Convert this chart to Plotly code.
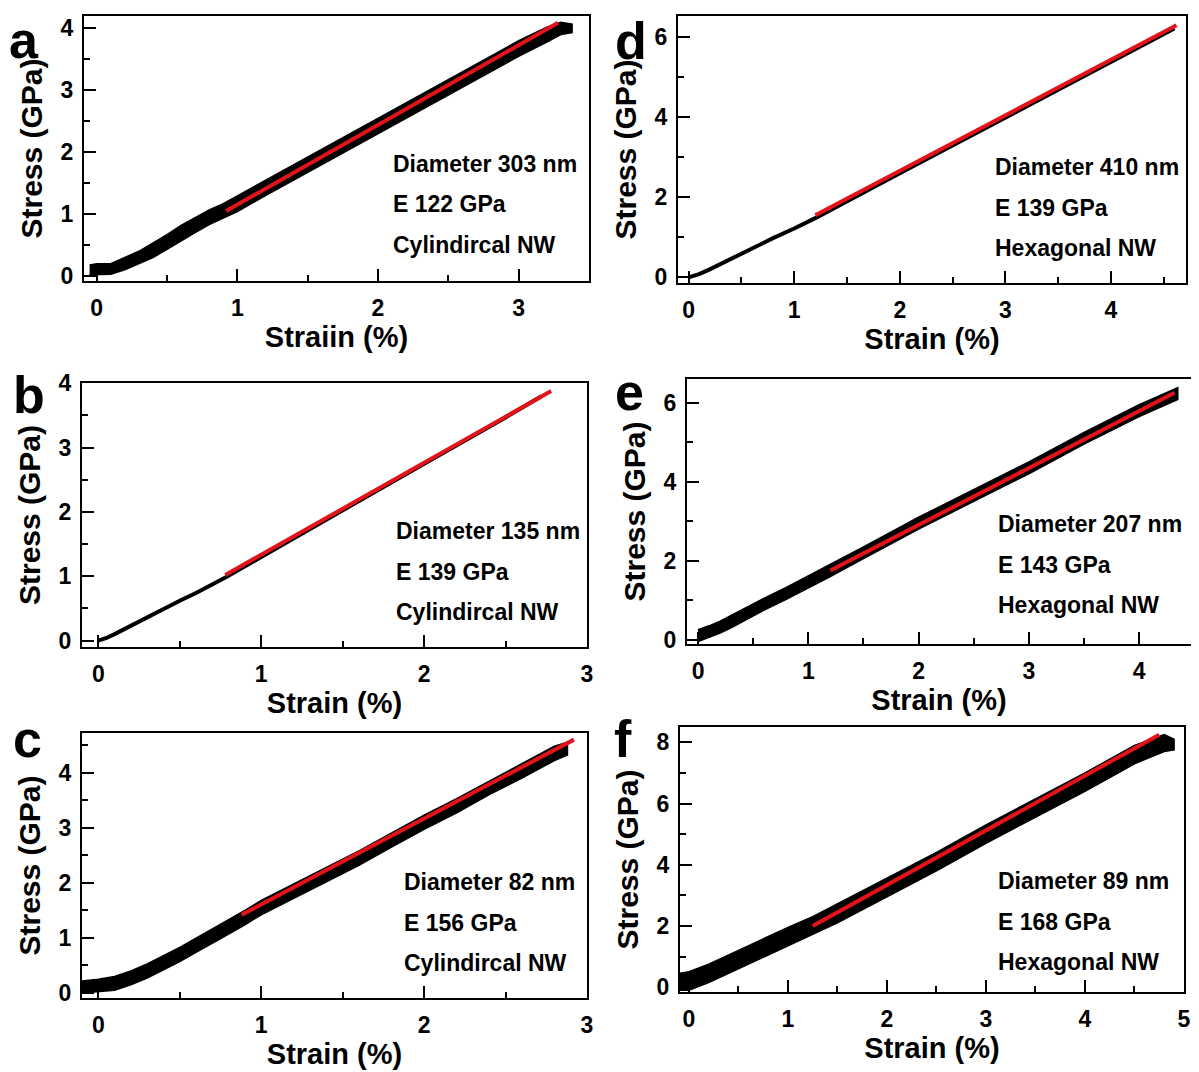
import plotly.graph_objects as go

# the page body has an 8px margin, so the figure is drawn 8px in from the top-left
OFF = 8
W, H = 1199 - OFF, 1072 - OFF

# ---- panel a : Diameter 303 nm, cylindrical ----
a_strain = [-0.05, 0.0, 0.1, 0.2, 0.3, 0.4, 0.5, 0.6, 0.7, 0.8, 0.9, 1.0, 1.2, 1.4, 1.6, 1.8,
            2.0, 2.2, 2.4, 2.6, 2.8, 3.0, 3.2, 3.3, 3.38]
a_lo = [0.02, 0.02, 0.03, 0.1, 0.2, 0.3, 0.43, 0.57, 0.7, 0.83, 0.93, 1.04, 1.3, 1.55, 1.8, 2.06,
        2.3, 2.55, 2.8, 3.05, 3.3, 3.55, 3.78, 3.9, 3.93]
a_hi = [0.18, 0.2, 0.2, 0.3, 0.4, 0.53, 0.67, 0.82, 0.95, 1.07, 1.17, 1.3, 1.55, 1.8, 2.05, 2.3,
        2.55, 2.8, 3.05, 3.3, 3.55, 3.8, 4.02, 4.1, 4.07]
a_fit_x = [0.92, 3.28]
a_fit_y = [1.05, 4.09]

# ---- panel b : Diameter 135 nm, cylindrical ----
b_strain = [0.0, 0.05, 0.1, 0.2, 0.3, 0.4, 0.5, 0.6, 0.7, 0.78, 1.0, 1.5, 2.0, 2.5, 2.72]
b_stress = [0.0, 0.04, 0.1, 0.23, 0.37, 0.5, 0.62, 0.74, 0.87, 0.98, 1.3, 2.03, 2.75, 3.47, 3.8]
b_fit_x = [0.78, 2.78]
b_fit_y = [1.02, 3.88]

# ---- panel c : Diameter 82 nm, cylindrical ----
c_strain = [-0.1, 0.0, 0.1, 0.2, 0.3, 0.4, 0.5, 0.6, 0.7, 0.8, 0.9, 1.0, 1.2, 1.4, 1.6, 1.8,
            2.0, 2.2, 2.4, 2.6, 2.8, 2.88]
c_lo = [0.0, 0.02, 0.05, 0.15, 0.27, 0.42, 0.57, 0.74, 0.9, 1.07, 1.24, 1.42, 1.72, 2.02, 2.32,
        2.65, 2.97, 3.27, 3.6, 3.9, 4.22, 4.32]
c_hi = [0.22, 0.25, 0.3, 0.4, 0.53, 0.68, 0.83, 1.0, 1.16, 1.33, 1.5, 1.68, 1.98, 2.28, 2.58,
        2.9, 3.23, 3.53, 3.85, 4.16, 4.48, 4.55]
c_fit_x = [0.88, 2.92]
c_fit_y = [1.42, 4.6]

# ---- panel d : Diameter 410 nm, hexagonal ----
d_strain = [0.0, 0.05, 0.1, 0.2, 0.3, 0.4, 0.5, 0.6, 0.8, 1.0, 1.2, 2.0, 3.0, 4.0, 4.6]
d_stress = [0.0, 0.03, 0.08, 0.2, 0.33, 0.46, 0.6, 0.73, 0.98, 1.22, 1.48, 2.6, 4.0, 5.4, 6.22]
d_fit_x = [1.2, 4.62]
d_fit_y = [1.55, 6.3]

# ---- panel e : Diameter 207 nm, hexagonal ----
e_strain = [0.0, 0.1, 0.2, 0.3, 0.4, 0.5, 0.6, 0.8, 1.0, 1.2, 1.5, 2.0, 2.5, 3.0, 3.5, 4.0, 4.35]
e_lo = [-0.05, 0.05, 0.17, 0.3, 0.45, 0.6, 0.75, 1.02, 1.3, 1.6, 2.05, 2.8, 3.5, 4.2, 4.95, 5.65, 6.08]
e_hi = [0.25, 0.35, 0.47, 0.6, 0.75, 0.9, 1.05, 1.32, 1.6, 1.9, 2.35, 3.1, 3.8, 4.5, 5.25, 5.95, 6.38]
e_fit_x = [1.2, 4.32]
e_fit_y = [1.75, 6.25]

# ---- panel f : Diameter 89 nm, hexagonal ----
f_strain = [-0.1, 0.0, 0.2, 0.4, 0.6, 0.8, 1.0, 1.25, 1.5, 2.0, 2.5, 3.0, 3.5, 4.0, 4.5, 4.8, 4.9]
f_lo = [-0.1, -0.1, 0.15, 0.45, 0.75, 1.05, 1.35, 1.7, 2.1, 2.95, 3.8, 4.7, 5.55, 6.4, 7.3, 7.7, 7.75]
f_hi = [0.45, 0.5, 0.75, 1.05, 1.35, 1.65, 1.95, 2.3, 2.7, 3.55, 4.4, 5.3, 6.15, 7.0, 7.9, 8.25, 8.1]
f_fit_x = [1.25, 4.75]
f_fit_y = [2.0, 8.25]

labels = {
    "a": ["Diameter 303 nm", "E 122 GPa", "Cylindircal NW"],
    "b": ["Diameter 135 nm", "E 139 GPa", "Cylindircal NW"],
    "c": ["Diameter 82 nm", "E 156 GPa", "Cylindircal NW"],
    "d": ["Diameter 410 nm", "E 139 GPa", "Hexagonal NW"],
    "e": ["Diameter 207 nm", "E 143 GPa", "Hexagonal NW"],
    "f": ["Diameter 89 nm", "E 168 GPa", "Hexagonal NW"],
}
xtitles = {"a": "Straiin (%)", "b": "Strain (%)", "c": "Strain (%)",
           "d": "Strain (%)", "e": "Strain (%)", "f": "Strain (%)"}

# frame boxes in page pixels (left, top, right, bottom), axis ranges, tick steps
panels = {
    "a": dict(box=(84, 16, 589, 281), xr=[-0.09, 3.5], yr=[-0.08, 4.2], dx=1, dy=1),
    "b": dict(box=(82, 383, 587, 647), xr=[-0.1, 3.0], yr=[-0.1, 4.005], dx=1, dy=1),
    "c": dict(box=(82, 733, 587, 998), xr=[-0.1, 3.0], yr=[-0.09, 4.72], dx=1, dy=1),
    "d": dict(box=(678, 16, 1186, 283), xr=[-0.1, 4.71], yr=[-0.14, 6.53], dx=1, dy=2),
    "e": dict(box=(687, 379, 1191, 644), xr=[-0.1, 4.47], yr=[-0.11, 6.6], dx=1, dy=2),
    "f": dict(box=(680, 727, 1184, 992), xr=[-0.09, 5.0], yr=[-0.16, 8.5], dx=1, dy=2),
}
text_pos = {"a": (391, 164), "b": (394, 531), "c": (402, 882),
            "d": (993, 167), "e": (996, 524), "f": (996, 881)}
letter_pos = {"a": (24, 40), "b": (29, 395), "c": (27, 739),
              "d": (631, 41), "e": (629, 392), "f": (623, 739)}

RED = "#e3131b"
FONT = "Liberation Sans"


def px(x):
    return (x - OFF) / W


def py(y):
    return 1 - (y - OFF) / H


fig = go.Figure()


def band(x, lo, hi, ax):
    fig.add_trace(go.Scatter(x=x + x[::-1], y=lo + hi[::-1], fill="toself",
                             fillcolor="black", line=dict(color="black", width=1.5),
                             mode="lines", xaxis="x" + ax, yaxis="y" + ax,
                             showlegend=False, hoverinfo="skip"))


def curve(x, y, ax):
    fig.add_trace(go.Scatter(x=x, y=y, mode="lines", line=dict(color="black", width=4),
                             xaxis="x" + ax, yaxis="y" + ax, showlegend=False))


def fit(x, y, ax):
    fig.add_trace(go.Scatter(x=x, y=y, mode="lines", line=dict(color=RED, width=4),
                             xaxis="x" + ax, yaxis="y" + ax, showlegend=False))


axis_ids = {"a": "", "b": "2", "c": "3", "d": "4", "e": "5", "f": "6"}

band(a_strain, a_lo, a_hi, axis_ids["a"])
fit(a_fit_x, a_fit_y, axis_ids["a"])
curve(b_strain, b_stress, axis_ids["b"])
fit(b_fit_x, b_fit_y, axis_ids["b"])
band(c_strain, c_lo, c_hi, axis_ids["c"])
fit(c_fit_x, c_fit_y, axis_ids["c"])
curve(d_strain, d_stress, axis_ids["d"])
fit(d_fit_x, d_fit_y, axis_ids["d"])
band(e_strain, e_lo, e_hi, axis_ids["e"])
fit(e_fit_x, e_fit_y, axis_ids["e"])
band(f_strain, f_lo, f_hi, axis_ids["f"])
fit(f_fit_x, f_fit_y, axis_ids["f"])

tickfont = dict(family=FONT, size=23, color="black", weight="bold")
xtitlefont = dict(family=FONT, size=29, color="black", weight="bold")
ytitlefont = dict(family=FONT, size=30, color="black", weight="bold")

layout = dict(width=W, height=H, margin=dict(l=0, r=0, t=0, b=0),
              paper_bgcolor="white", plot_bgcolor="white", showlegend=False)
annotations = []

for key, p in panels.items():
    l, t, r, b = p["box"]
    ax = axis_ids[key]
    common = dict(showline=True, linecolor="black", linewidth=2, mirror=True,
                  ticks="inside", ticklen=12, tickwidth=2, tickcolor="black",
                  showgrid=False, zeroline=False, tickfont=tickfont, automargin=False)
    layout["xaxis" + ax] = dict(
        common, domain=[px(l), px(r)], range=p["xr"], dtick=p["dx"], tick0=0,
        anchor="y" + ax, ticklabelstandoff=5,
        minor=dict(ticks="inside", ticklen=6, tickwidth=2, tickcolor="black",
                   dtick=p["dx"] / 2, showgrid=False),
        title=dict(text=xtitles[key], font=xtitlefont, standoff=4))
    layout["yaxis" + ax] = dict(
        common, domain=[py(b), py(t)], range=p["yr"], dtick=p["dy"], tick0=0,
        anchor="x" + ax, ticklabelstandoff=4,
        minor=dict(ticks="inside", ticklen=6, tickwidth=2, tickcolor="black",
                   dtick=p["dy"] / 2, showgrid=False),
        title=dict(text="Stress (GPa)", font=ytitlefont, standoff=9))

    tx, ty = text_pos[key]
    for i, line in enumerate(labels[key]):
        annotations.append(dict(x=px(tx), y=py(ty + 40.5 * i), xref="paper", yref="paper",
                                text=line, showarrow=False, xanchor="left", yanchor="middle",
                                font=dict(family=FONT, size=23, color="black", weight="bold")))
    lx, ly = letter_pos[key]
    annotations.append(dict(x=px(lx), y=py(ly), xref="paper", yref="paper",
                            text=key, showarrow=False, xanchor="center", yanchor="middle",
                            font=dict(family=FONT, size=52, color="black", weight="bold")))

layout["annotations"] = annotations
fig.update_layout(**layout)
fig.write_html("out.html")
